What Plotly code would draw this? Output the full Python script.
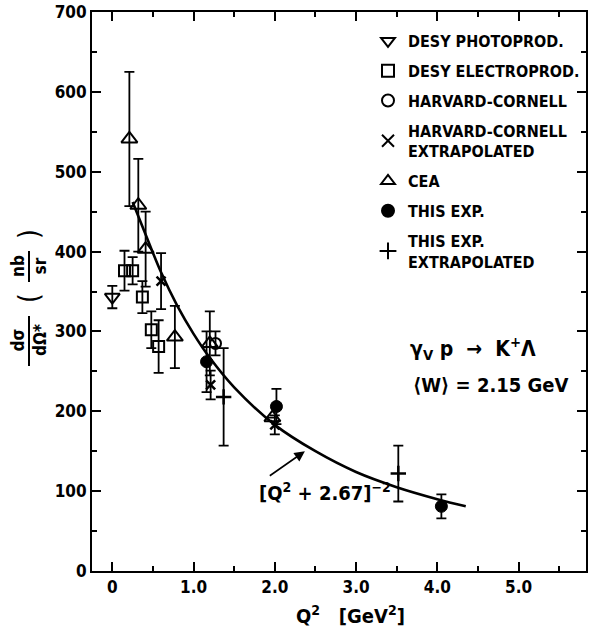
import plotly.graph_objects as go

# ---------------- data ----------------
desy_photo_q2 = [0.0]
desy_photo_xs = [343]
desy_photo_err = [14]

desy_elec_q2 = [0.15, 0.25, 0.37, 0.48, 0.57]
desy_elec_xs = [376, 376, 343, 302, 281]
desy_elec_err = [25, 17, 20, 23, 33]

hc_q2 = [1.27]
hc_xs = [285]
hc_err = [15]

hc_ext_q2 = [0.60, 1.21, 2.00]
hc_ext_xs = [363, 233, 183]
hc_ext_err = [35, 18, 12]

cea_q2 = [0.21, 0.32, 0.41, 0.77, 1.20, 1.97]
cea_xs = [541, 458, 403, 293, 285, 192]
cea_err = [84, 58, 47, 39, 40, 0]

this_q2 = [1.16, 2.02, 4.05]
this_xs = [262, 206, 81]
this_err = [38, 22, 15]

this_ext_q2 = [1.37, 3.52]
this_ext_xs = [218, 122]
this_ext_err = [61, 35]

# fitted curve [Q^2 + 2.67]^-2
fit_q2 = [0.25, 0.40, 0.60, 0.80, 1.00, 1.20, 1.50, 2.00, 2.50, 3.00, 3.50, 4.00, 4.35]
fit_xs = [462, 424, 374, 332, 297, 267, 230, 183, 150, 124, 105, 90, 81]

x_tickvals = [0, 1, 2, 3, 4, 5]
x_ticktext = ["0", "1.0", "2.0", "3.0", "4.0", "5.0"]
y_tickvals = [0, 100, 200, 300, 400, 500, 600, 700]
y_ticktext = ["0", "100", "200", "300", "400", "500", "600", "700"]

FONT = "Liberation Sans Narrow, DejaVu Sans Condensed, Arial Narrow, sans-serif"
BLACK = "black"

# plot-area geometry in pixels (used only to place the free text pieces)
L, R, T, B = 92, 586, 12, 571
W, H = R - L, B - T


def px(xp):
    return (xp - L) / W


def py(yp):
    return (B - yp) / H


fig = go.Figure()

fig.add_trace(go.Scatter(x=fit_q2, y=fit_xs, mode="lines", line=dict(color=BLACK, width=2.6, shape="spline"),
                         showlegend=False, hoverinfo="skip"))


def series(name, x, y, err, symbol, size, lw=2):
    fig.add_trace(go.Scatter(
        x=x, y=y, mode="markers", name=name, legendgroup=name,
        marker=dict(symbol=symbol, size=size, color=BLACK, line=dict(color=BLACK, width=lw)),
        error_y=dict(type="data", array=err, visible=True, color=BLACK, thickness=1.8, width=5),
    ))


series("DESY PHOTOPROD.", desy_photo_q2, desy_photo_xs, desy_photo_err, "triangle-down-open", 13)
series("DESY ELECTROPROD.", desy_elec_q2, desy_elec_xs, desy_elec_err, "square-open", 11)
series("HARVARD-CORNELL", hc_q2, hc_xs, hc_err, "circle-open", 11)
series("HARVARD-CORNELL<br>EXTRAPOLATED", hc_ext_q2, hc_ext_xs, hc_ext_err, "x-thin-open", 9, 2.5)
series("CEA", cea_q2, cea_xs, cea_err, "triangle-up-open", 14)
series("THIS EXP.", this_q2, this_xs, this_err, "circle", 12, 1)
series("THIS EXP.<br>EXTRAPOLATED", this_ext_q2, this_ext_xs, this_ext_err, "cross-thin-open", 11, 2.5)

axis_common = dict(showline=True, linecolor=BLACK, linewidth=2, mirror="allticks", ticks="inside",
                   tickcolor=BLACK, tickwidth=2, showgrid=False, zeroline=False, automargin=False,
                   tickfont=dict(family=FONT, size=17, color=BLACK, weight="bold"))

fig.update_xaxes(range=[-0.25, 5.83], tickvals=x_tickvals, ticktext=x_ticktext, ticklen=9,
                 minor=dict(dtick=0.5, tick0=0, ticks="inside", ticklen=5, tickcolor=BLACK, tickwidth=2),
                 **axis_common)
fig.update_yaxes(range=[0, 700], tickvals=y_tickvals, ticktext=y_ticktext, ticklen=9,
                 minor=dict(dtick=50, tick0=0, ticks="inside", ticklen=5, tickcolor=BLACK, tickwidth=2),
                 **axis_common)

ann_font = dict(family=FONT, size=17, color=BLACK, weight="bold")
txt_font = dict(family=FONT, size=20, color=BLACK, weight="bold")


def note(x, y, text, font, xref="paper", yref="paper", angle=0):
    return dict(x=x, y=y, xref=xref, yref=yref, text=text, showarrow=False, font=font,
                xanchor="center", yanchor="middle", textangle=angle)


annotations = [
    note(px(350), py(615), "Q<sup>2</sup>   [GeV<sup>2</sup>]", dict(family=FONT, size=20, color=BLACK, weight="bold")),
    note(px(473), py(348), "γ<sub>V</sub> p  →  K<sup>+</sup>Λ", dict(family=FONT, size=21, color=BLACK, weight="bold")),
    note(px(491), py(385), "⟨W⟩ = 2.15 GeV", txt_font),
    note(2.62, 99, "[Q<sup>2</sup> + 2.67]<sup>−2</sup>", txt_font, "x", "y"),
    dict(x=2.37, y=150, xref="x", yref="y", ax=1.92, ay=118, axref="x", ayref="y", text="",
         showarrow=True, arrowhead=2, arrowsize=1.3, arrowwidth=1.6, arrowcolor=BLACK),
    # y-axis title pieces (rotated)
    note(px(29), py(340), "dσ<br>dΩ*", ann_font, angle=-90),
    note(px(29), py(266), "nb<br>sr", ann_font, angle=-90),
    note(px(29), py(298), "(", dict(family=FONT, size=28, color=BLACK), angle=-90),
    note(px(29), py(234), ")", dict(family=FONT, size=28, color=BLACK), angle=-90),
]

shapes = [
    dict(type="line", xref="paper", yref="paper", x0=px(29), x1=px(29),
         y0=py(316), y1=py(366), line=dict(color=BLACK, width=2)),
    dict(type="line", xref="paper", yref="paper", x0=px(29), x1=px(29),
         y0=py(251), y1=py(282), line=dict(color=BLACK, width=2)),
]

fig.update_layout(
    width=589, height=635,
    margin=dict(l=L, r=589 - R, t=T, b=635 - B, autoexpand=False),
    paper_bgcolor="white", plot_bgcolor="white",
    font=dict(family=FONT, color=BLACK),
    annotations=annotations, shapes=shapes,
    legend=dict(x=px(368), y=py(24), xanchor="left", yanchor="top", bgcolor="rgba(0,0,0,0)",
                font=dict(family=FONT, size=16, color=BLACK, weight="bold"), itemsizing="constant",
                tracegroupgap=6),
    showlegend=True,
)

fig.write_html("out.html", config={"displayModeBar": False},
               post_script="document.body.style.margin='0';document.body.style.overflow='hidden';")
